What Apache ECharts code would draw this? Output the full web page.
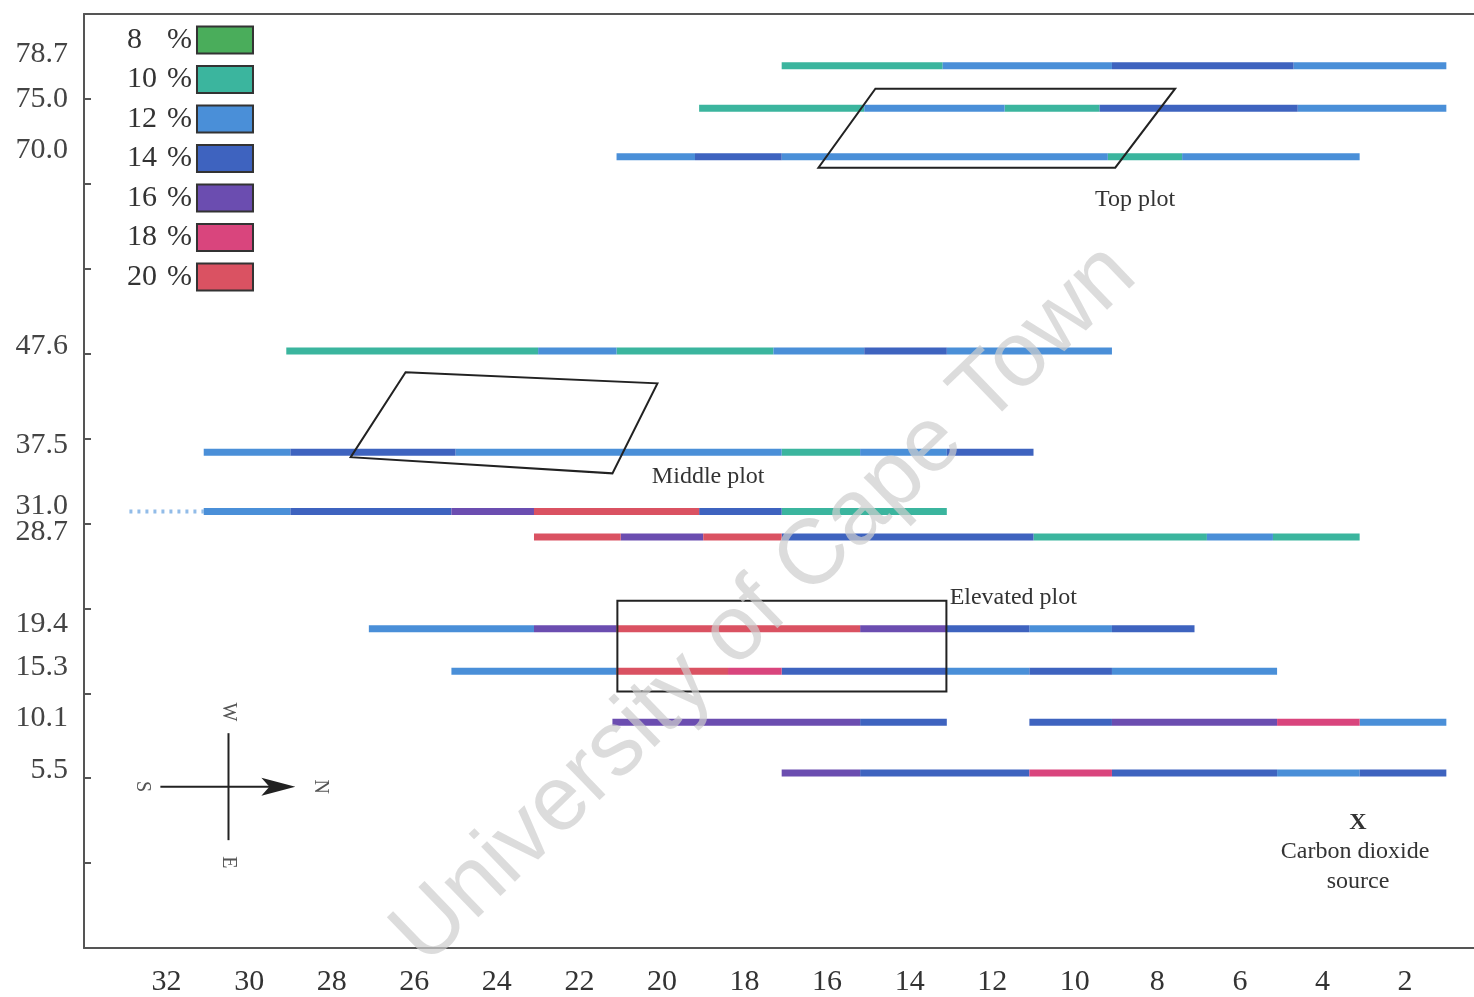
<!DOCTYPE html>
<html><head><meta charset="utf-8">
<script src="https://cdn.jsdelivr.net/npm/echarts@6/dist/echarts.min.js"></script>
<style>html,body{margin:0;padding:0;background:#fff}#c{width:1474px;height:997px}</style>
</head><body><div id="c"></div>
<script>
// ---- data ----
const classNames = ['8 %','10 %','12 %','14 %','16 %','18 %','20 %'];
const classColors = ['#4aad5b','#3bb59e','#4a8fd8','#3e63bf','#6b4db0','#d9457d','#da5262'];
const xTickLabels = [32,30,28,26,24,22,20,18,16,14,12,10,8,6,4,2];
const yTickMarks = [1,2,3,4,5,6,7,8,9,10];
const rowLabels = ['78.7','75.0','70.0','47.6','37.5','31.0','28.7','19.4','15.3','10.1','5.5'];
const rowPos = [10.39,9.89,9.32,7.03,5.84,5.14,4.84,3.76,3.26,2.66,2.06];
const labelPos = [10.53,10.00,9.40,7.09,5.92,5.20,4.90,3.81,3.31,2.71,2.10];
// segments: [from, to, class index]
const seg787 = [[17.1,13.2,1],[13.2,9.1,2],[9.1,4.7,3],[4.7,1.0,2]];
const seg750 = [[19.1,15.1,1],[15.1,11.7,2],[11.7,9.4,1],[9.4,4.6,3],[4.6,1.0,2]];
const seg700 = [[21.1,19.2,2],[19.2,17.1,3],[17.1,9.2,2],[9.2,7.4,1],[7.4,3.1,2]];
const seg476 = [[29.1,23.0,1],[23.0,21.1,2],[21.1,17.3,1],[17.3,15.1,2],[15.1,13.1,3],[13.1,9.1,2]];
const seg375 = [[31.1,29.0,2],[29.0,25.0,3],[25.0,17.1,2],[17.1,15.2,1],[15.2,13.1,2],[13.1,11.0,3]];
const seg310 = [[31.1,29.0,2],[29.0,25.1,3],[25.1,23.1,4],[23.1,19.1,6],[19.1,17.1,3],[17.1,13.1,1]];
const seg287 = [[23.1,21.0,6],[21.0,19.0,4],[19.0,17.1,6],[17.1,11.0,3],[11.0,6.8,1],[6.8,5.2,2],[5.2,3.1,1]];
const seg194 = [[27.1,23.1,2],[23.1,21.1,4],[21.1,15.2,6],[15.2,13.1,4],[13.1,11.1,3],[11.1,9.1,2],[9.1,7.1,3]];
const seg153 = [[25.1,21.1,2],[21.1,18.4,6],[18.4,17.1,5],[17.1,13.1,3],[13.1,11.1,2],[11.1,9.1,3],[9.1,5.1,2]];
const seg101 = [[21.2,15.2,4],[15.2,13.1,3],[11.1,9.1,3],[9.1,5.1,4],[5.1,3.1,5],[3.1,1.0,2]];
const seg55  = [[17.1,15.2,4],[15.2,11.1,3],[11.1,9.1,5],[9.1,5.1,3],[5.1,3.1,2],[3.1,1.0,3]];
const rowSegments = [seg787,seg750,seg700,seg476,seg375,seg310,seg287,seg194,seg153,seg101,seg55];
// faint dotted lead-in: [from, to, row index]
const fadedSegments = [[32.9,31.1,5]];

// annotation shapes (data units)
const topPlot = [[14.83,10.12],[7.57,10.12],[9.02,9.19],[16.21,9.19]];
const middlePlot = [[26.21,6.78],[20.11,6.65],[21.2,5.59],[27.54,5.78]];
const elevatedPlot = [[21.08,4.09],[13.11,4.09],[13.11,3.02],[21.08,3.02]];
const noteTexts = [
  ['Top plot', 8.54, 8.81],
  ['Middle plot', 18.88, 5.55],
  ['Elevated plot', 11.49, 4.12],
  ['X', 3.14, 1.48],
  ['Carbon dioxide', 3.21, 1.13],
  ['source', 3.14, 0.78]
];
const compassCenter = [30.5, 1.90];
const compassH = [32.15, 28.88];
const compassV = [2.53, 1.27];
const compassLetters = [['N',28.27,1.90],['S',32.58,1.90],['W',30.5,2.78],['E',30.5,1.01]];

// ---- build ----
const classData = classNames.map(() => []);
rowSegments.forEach((segs, i) => segs.forEach(s => classData[s[2]].push([s[0], s[1], rowPos[i]])));

function renderSeg(params, api) {
  const a = api.coord([api.value(0), api.value(2)]);
  const b = api.coord([api.value(1), api.value(2)]);
  return {type:'rect', shape:{x:Math.min(a[0],b[0]), y:a[1]-3.5, width:Math.abs(b[0]-a[0]), height:7},
    style:{fill: api.visual('color')}};
}

const serif = 'Liberation Serif';
const series = classNames.map((n, i) => ({
  name: n, type:'custom', renderItem: renderSeg, data: classData[i],
  itemStyle:{color: classColors[i]}, encode:{x:[0,1], y:2}, z: 3
}));

series.push({
  name:'faded', type:'custom', z:3,
  data: fadedSegments.map(f => [f[0], f[1], rowPos[f[2]]]),
  encode:{x:[0,1], y:2},
  renderItem(params, api) {
    const a = api.coord([api.value(0), api.value(2)]);
    const b = api.coord([api.value(1), api.value(2)]);
    return {type:'line', shape:{x1:a[0], y1:a[1], x2:b[0], y2:b[1]},
      style:{stroke: classColors[2], lineWidth:4, lineDash:[3,5], opacity:0.6}};
  }
});

series.push({
  name:'notes', type:'custom', z:5, data:[[1,1]],
  renderItem(params, api) {
    const ch = [];
    [topPlot, middlePlot, elevatedPlot].forEach(pl => {
      ch.push({type:'polygon', shape:{points: pl.map(p => api.coord(p))},
        style:{fill:'none', stroke:'#222', lineWidth:2}});
    });
    noteTexts.forEach(t => {
      const p = api.coord([t[1], t[2]]);
      ch.push({type:'text', x:p[0], y:p[1], style:{text:t[0], align:'center', verticalAlign:'middle',
        font: (t[0]==='X' ? 'bold 24px ' : '24px ') + serif, fill:'#333'}});
    });
    const h1 = api.coord([compassH[0], compassCenter[1]]);
    const h2 = api.coord([compassH[1], compassCenter[1]]);
    const v1 = api.coord([compassCenter[0], compassV[0]]);
    const v2 = api.coord([compassCenter[0], compassV[1]]);
    ch.push({type:'line', shape:{x1:h1[0], y1:h1[1], x2:h2[0]-10, y2:h2[1]}, style:{stroke:'#222', lineWidth:2}});
    ch.push({type:'line', shape:{x1:v1[0], y1:v1[1], x2:v2[0], y2:v2[1]}, style:{stroke:'#222', lineWidth:2}});
    ch.push({type:'polygon', shape:{points:[[h2[0],h2[1]],[h2[0]-34,h2[1]-9],[h2[0]-26,h2[1]],[h2[0]-34,h2[1]+9]]},
      style:{fill:'#222'}});
    compassLetters.forEach(l => {
      const p = api.coord([l[1], l[2]]);
      ch.push({type:'text', x:p[0], y:p[1], rotation:-Math.PI/2,
        style:{text:l[0], align:'center', verticalAlign:'middle', font:'20px ' + serif, fill:'#555'}});
    });
    return {type:'group', children: ch};
  }
});

const chart = echarts.init(document.getElementById('c'));
chart.setOption({
  animation:false,
  backgroundColor:'#fff',
  grid:{left:84, right:0, top:14, bottom:49},
  legend:{
    data: classNames, orient:'vertical', left:122, top:20, align:'right', selectedMode:false,
    itemWidth:56, itemHeight:27, itemGap:9.5, icon:'rect',
    itemStyle:{borderColor:'#333', borderWidth:2},
    formatter: n => '{n|' + n.split(' ')[0] + '}{p|%}',
    textStyle:{fontFamily:serif, fontSize:30, color:'#333', lineHeight:27,
      rich:{n:{width:40, align:'left', fontFamily:serif, fontSize:30, lineHeight:27, color:'#333'},
            p:{fontFamily:serif, fontSize:30, lineHeight:27, color:'#333'}}}
  },
  xAxis:[{
    type:'value', inverse:true, min:0.33, max:34,
    axisLine:{show:true, lineStyle:{color:'#555', width:2}},
    axisTick:{show:false}, splitLine:{show:false},
    axisLabel:{customValues: xTickLabels, margin:19, fontFamily:serif, fontSize:30, color:'#333'}
  },{
    type:'value', inverse:true, min:0.33, max:34, position:'top',
    axisLine:{show:true, lineStyle:{color:'#555', width:2}},
    axisTick:{show:false}, splitLine:{show:false}, axisLabel:{show:false}
  }],
  yAxis:{
    type:'value', min:0, max:11, interval:1,
    axisLine:{show:true, lineStyle:{color:'#555', width:2}},
    axisTick:{show:true, inside:true, length:7, customValues: yTickMarks, lineStyle:{color:'#555', width:2}},
    splitLine:{show:false},
    axisLabel:{customValues: labelPos, margin:16, fontFamily:serif, fontSize:30, color:'#444',
      formatter: v => rowLabels[labelPos.indexOf(v)]}
  },
  graphic:[{
    type:'text', x:765, y:605, rotation: 44*Math.PI/180, z:100, silent:true,
    style:{text:'University of Cape Town', align:'center', verticalAlign:'middle',
      font:'92px "Liberation Sans"', fill:'rgba(205,205,205,0.7)'}
  }],
  series: series
});
</script></body></html>
